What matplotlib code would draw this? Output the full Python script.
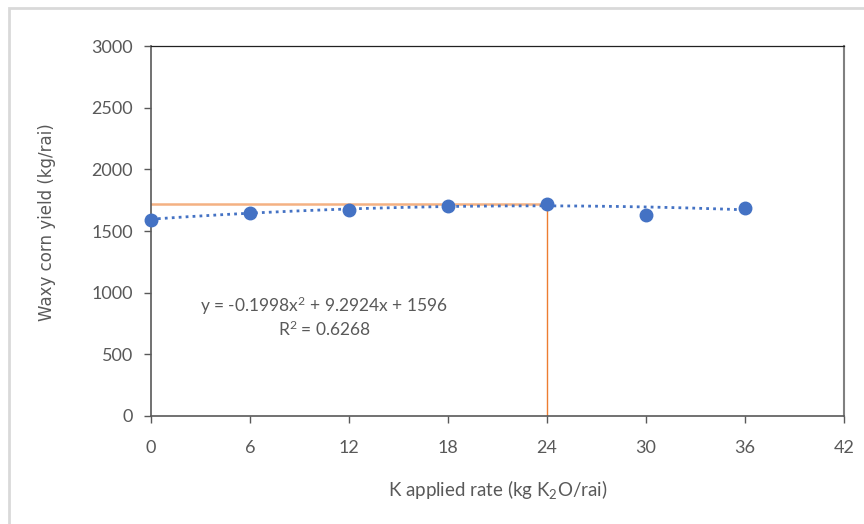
import numpy as np
import matplotlib.pyplot as plt
from matplotlib.patches import Rectangle

# data
k_rate = [0, 6, 12, 18, 24, 30, 36]
yield_kg = [1590, 1645, 1672, 1700, 1718, 1632, 1690]
# trendline coefficients as printed on the chart
trend_coef = [-0.1998, 9.2924, 1596]
opt_rate = 24
opt_yield = 1720
x_ticks = [0, 6, 12, 18, 24, 30, 36, 42]
y_ticks = [0, 500, 1000, 1500, 2000, 2500, 3000]

plt.rcParams['font.family'] = ['Lato', 'DejaVu Sans']
plt.rcParams['mathtext.fontset'] = 'custom'
plt.rcParams['mathtext.rm'] = 'Lato'
plt.rcParams['mathtext.it'] = 'Lato'

grey = '#595959'
blue = '#4472C4'

fig = plt.figure(figsize=(8.64, 5.24), dpi=100)
ax = fig.add_axes([151 / 864, 1 - 416 / 524, (844 - 151) / 864, (416 - 46) / 524])

# outer chart-area border
fig.patches.append(Rectangle((9 / 864, -0.1), 1.2, 1 - 8 / 524 + 0.1,
                             transform=fig.transFigure, fill=False,
                             edgecolor='#d9d9d9', linewidth=2))

# optimum guide lines
ax.plot([0, opt_rate], [opt_yield, opt_yield], color='#F4B183', lw=1.8, zorder=2)
ax.plot([opt_rate, opt_rate], [0, opt_yield], color='#ED7D31', lw=1.0, zorder=2)

# polynomial trendline
xs = np.linspace(min(k_rate), max(k_rate), 200)
ax.plot(xs, np.polyval(trend_coef, xs), color=blue, lw=2, linestyle=(0, (1, 1.5)), zorder=3)

ax.plot(k_rate, yield_kg, 'o', color=blue, markersize=9, zorder=4, clip_on=False)

ax.set_xlim(0, 42)
ax.set_ylim(0, 3000)
ax.set_xticks(x_ticks)
ax.set_yticks(y_ticks)
ax.tick_params(axis='both', colors=grey, labelsize=13, length=5, width=1)
ax.tick_params(axis='x', pad=12)
ax.tick_params(axis='y', pad=8)

for side in ['left', 'bottom']:
    ax.spines[side].set_color(grey)
    ax.spines[side].set_linewidth(1.2)
ax.spines['top'].set_color('#222222')
ax.spines['top'].set_linewidth(0.9)
ax.spines['right'].set_color('#808080')
ax.spines['right'].set_linewidth(1.5)

ax.text(0.25, 0.268, 'y = -0.1998x$^{2}$ + 9.2924x + 1596\nR$^{2}$ = 0.6268',
        transform=ax.transAxes, ha='center', va='center', fontsize=12.5,
        color=grey, linespacing=1.2)

ax.set_xlabel('K applied rate (kg K$_{2}$O/rai)', fontsize=13.5, color=grey)
ax.xaxis.set_label_coords(0.5, -(478 - 416) / 370)
ax.set_ylabel('Waxy corn yield (kg/rai)', fontsize=12, color=grey,
              family=['DejaVu Sans'])
ax.yaxis.set_label_coords(-(151 - 56) / 693, (416 - 222) / 370)

fig.savefig('out.png', dpi=100)
